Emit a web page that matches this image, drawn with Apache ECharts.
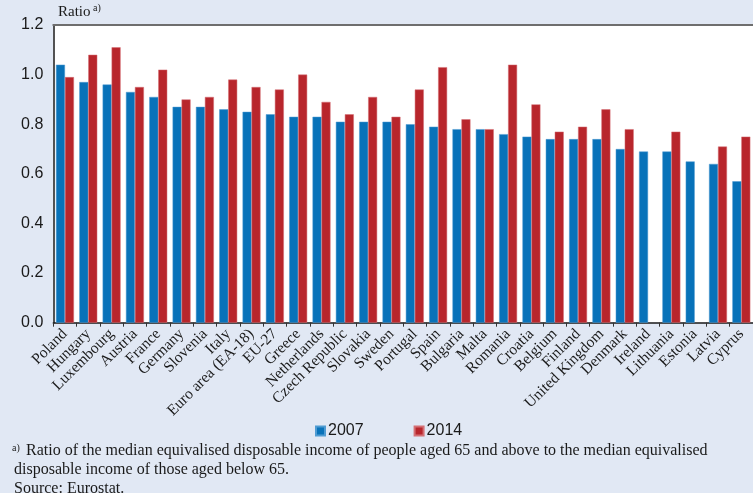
<!DOCTYPE html>
<html>
<head>
<meta charset="utf-8">
<script src="https://cdn.jsdelivr.net/npm/echarts@6/dist/echarts.min.js"></script>
<style>
html,body{margin:0;padding:0;background:#e1e8f4;}
#chart{width:753px;height:493px;}
</style>
</head>
<body>
<div id="chart"></div>
<script>
const categories = ["Poland","Hungary","Luxembourg","Austria","France","Germany","Slovenia","Italy","Euro area (EA-18)","EU-27","Greece","Netherlands","Czech Republic","Slovakia","Sweden","Portugal","Spain","Bulgaria","Malta","Romania","Croatia","Belgium","Finland","United Kingdom","Denmark","Ireland","Lithuania","Estonia","Latvia","Cyprus"];
const values2007 = [1.04,0.97,0.96,0.93,0.91,0.87,0.87,0.86,0.85,0.84,0.83,0.83,0.81,0.81,0.81,0.80,0.79,0.78,0.78,0.76,0.75,0.74,0.74,0.74,0.70,0.69,0.69,0.65,0.64,0.57];
const values2014 = [0.99,1.08,1.11,0.95,1.02,0.90,0.91,0.98,0.95,0.94,1.00,0.89,0.84,0.91,0.83,0.94,1.03,0.82,0.78,1.04,0.88,0.77,0.79,0.86,0.78,null,0.77,null,0.71,0.75];
const seriesNames = ["2007","2014"];
const yTicks = [0,0.2,0.4,0.6,0.8,1.0,1.2];

const chart = echarts.init(document.getElementById('chart'));
const serif = '"Liberation Serif","Times New Roman",serif';
const sans = '"Liberation Sans",Arial,sans-serif';
const option = {
  backgroundColor: '#e1e8f4',
  animation: false,
  grid: {left: 53.3, top: 25, width: 703.5, height: 297.7, show: true, backgroundColor: '#ffffff', borderWidth: 0},
  legend: {
    data: seriesNames, left: 315, top: 423, padding: 0, itemWidth: 9, itemHeight: 9, itemGap: 50,
    icon: 'rect', textStyle: {fontFamily: sans, fontSize: 16, color: '#1a1a1a', padding: [0,0,0,-2]}
  },
  xAxis: [{
    type: 'category', data: categories, gridIndex: 0,
    axisLine: {lineStyle: {color: '#1a1a1a', width: 1.5}},
    axisTick: {show: true, alignWithLabel: false, length: 4, lineStyle: {color: '#333'}},
    axisLabel: {rotate: 45, interval: 0, fontFamily: serif, fontSize: 15.5, color: '#1a1a1a', margin: 9}
  },{
    type: 'category', data: categories, position: 'top', gridIndex: 0,
    axisLine: {lineStyle: {color: '#6e6e6e', width: 2}},
    axisTick: {show: false}, axisLabel: {show: false}
  }],
  yAxis: {
    type: 'value', min: 0, max: 1.2, interval: 0.2,
    axisLine: {show: true, lineStyle: {color: '#1a1a1a', width: 1.5}},
    axisTick: {show: false}, splitLine: {show: false},
    axisLabel: {fontFamily: sans, fontSize: 16, color: '#1a1a1a', margin: 10,
      formatter: v => yTicks.includes(Math.round(v*10)/10) ? v.toFixed(1) : ''}
  },
  series: [
    {name: seriesNames[0], type: 'bar', data: values2007, barGap: '0%', barCategoryGap: '23%',
      itemStyle: {color: '#0872b9', borderColor: '#4f9bd2', borderWidth: 0.5}},
    {name: seriesNames[1], type: 'bar', data: values2014, barGap: '0%', barCategoryGap: '23%',
      itemStyle: {color: '#b8262c', borderColor: '#d46f74', borderWidth: 0.5}}
  ],
  graphic: [
    {type: 'text', left: 58, top: 5, style: {text: 'Ratio', font: '15px ' + serif, fill: '#1a1a1a'}},
    {type: 'text', left: 93, top: 3, style: {text: 'a)', font: '10px ' + serif, fill: '#1a1a1a'}},
    {type: 'text', left: 12, top: 443, style: {text: 'a)', font: '10px ' + serif, fill: '#1a1a1a'}},
    {type: 'text', left: 26, top: 443, style: {text: 'Ratio of the median equivalised disposable income of people aged 65 and above to the median equivalised', font: '16px ' + serif, fill: '#1a1a1a'}},
    {type: 'text', left: 14, top: 462, style: {text: 'disposable income of those aged below 65.', font: '16px ' + serif, fill: '#1a1a1a'}},
    {type: 'text', left: 14, top: 481, style: {text: 'Source: Eurostat.', font: '16px ' + serif, fill: '#1a1a1a'}}
  ]
};
chart.setOption(option);
</script>
</body>
</html>
